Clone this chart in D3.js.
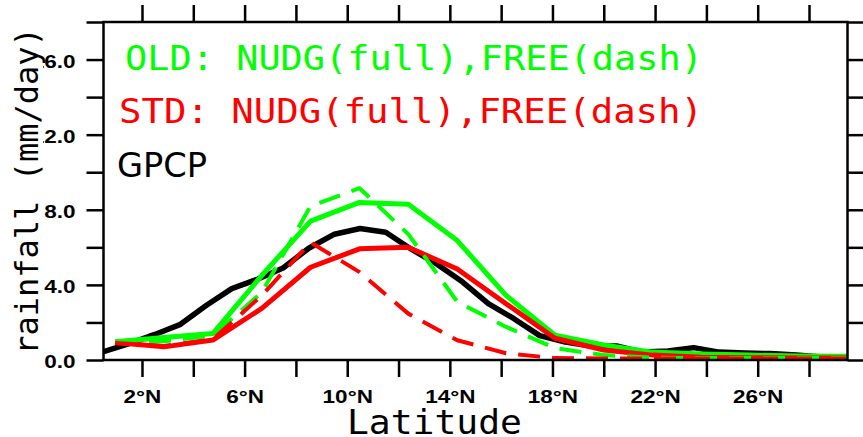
<!DOCTYPE html>
<html><head><meta charset="utf-8">
<script src="https://cdn.jsdelivr.net/npm/d3@7"></script>
<style>body{margin:0;background:#fff}svg{display:block}</style>
</head><body>
<script>
// ---- data ----
const gpcpLat = [0.5,1.5,2.5,3.5,4.5,5.5,6.5,7.5,8.5,9.5,10.5,11.5,12.5,13.5,14.5,15.5,16.5,17.5,18.5,19.5,20.5,21.5,22.5,23.5,24.5,25.5,26.5,27.5,28.5,29.5];
const gpcp    = [0.44,0.87,1.36,1.9,2.9,3.8,4.3,4.9,5.95,6.7,7.0,6.8,5.9,5.1,4.15,3.0,2.2,1.3,0.96,0.75,0.75,0.42,0.48,0.66,0.42,0.37,0.34,0.26,0.16,0.16];
const modelLat = [0.95,2.86,4.76,6.67,8.57,10.48,12.38,14.29,16.19,18.10,20.00,21.90,23.81,25.71,27.62,29.5];
const oldNudg = [0.97,1.2,1.41,4.5,7.4,8.39,8.3,6.36,3.44,1.32,0.8,0.42,0.32,0.26,0.21,0.2];
const oldFree = [1.0,1.0,1.3,3.6,8.2,9.15,6.7,3.1,1.76,0.63,0.26,0.12,0.1,0.1,0.1,0.1];
const stdNudg = [0.93,0.7,1.06,2.75,4.94,5.92,6.0,4.85,3.0,1.16,0.53,0.26,0.15,0.12,0.1,0.1];
const stdFree = [0.9,0.75,1.1,3.44,6.27,4.68,2.47,1.05,0.36,0.1,0.08,0.08,0.08,0.08,0.08,0.08];
const xTicks = [2,4,6,8,10,12,14,16,18,20,22,24,26,28];
const xLabelTicks = [2,6,10,14,18,22,26];
const yTicks = [0,2,4,6,8,10,12,14,16,18];
const yLabelTicks = [0,4,8,12,16];
const legendLines = ["OLD: NUDG(full),FREE(dash)","STD: NUDG(full),FREE(dash)","GPCP"];

const W=863,H=437;
const svg=d3.select("body").append("svg").attr("width",W).attr("height",H);
const x=d3.scaleLinear().domain([0.5,29.5]).range([103.5,847.5]);
const y=d3.scaleLinear().domain([0,18]).range([360,22]);

svg.append("defs").append("clipPath").attr("id","clip")
  .append("rect").attr("x",103.5).attr("y",22).attr("width",744).attr("height",338);

// data lines
const g=svg.append("g").attr("clip-path","url(#clip)");
function draw(lats,vals,color,dash,w){
  const line=d3.line().x((d,i)=>x(lats[i])).y(d=>y(d));
  const p=g.append("path").datum(vals).attr("d",line).attr("fill","none")
    .attr("stroke",color).attr("stroke-width",w).attr("stroke-linejoin","round");
  if(dash) p.attr("stroke-dasharray","22,12");
}
draw(gpcpLat,gpcp,"#000",false,5.5);
draw(modelLat,oldNudg,"#00ff00",false,5);
draw(modelLat,stdNudg,"#ff0000",false,5);
draw(modelLat,oldFree,"#00ff00",true,4);
draw(modelLat,stdFree,"#ff0000",true,4);

// axes
const axStyle=sel=>{sel.select(".domain").remove();sel.selectAll("line").attr("stroke","#000").attr("stroke-width",2.5);};
const bottomAx=svg.append("g").attr("transform","translate(0,360)")
  .call(d3.axisBottom(x).tickValues(xTicks).tickSize(17).tickPadding(13).tickFormat(d=>xLabelTicks.includes(d)?d+"°N":""))
  .call(axStyle);
svg.append("g").attr("transform","translate(0,22)")
  .call(d3.axisTop(x).tickValues(xTicks).tickSize(17).tickFormat("")).call(axStyle);
const leftAx=svg.append("g").attr("transform","translate(103.5,0)")
  .call(d3.axisLeft(y).tickValues(yTicks).tickSize(17).tickPadding(11).tickFormat(d=>yLabelTicks.includes(d)?d.toFixed(1):""))
  .call(axStyle);
svg.append("g").attr("transform","translate(847.5,0)")
  .call(d3.axisRight(y).tickValues(yTicks).tickSize(16).tickFormat("")).call(axStyle);

svg.append("rect").attr("x",103.5).attr("y",22).attr("width",744).attr("height",338)
  .attr("fill","none").attr("stroke","#000").attr("stroke-width",2.5);

function styleLabels(ax,mode){
  ax.selectAll("text").attr("font-family","Liberation Sans, Arial, sans-serif")
    .attr("font-weight","bold").attr("font-size",18).attr("fill","#000");
  ax.selectAll("text").each(function(){
    const t=d3.select(this); if(!t.text()) return;
    const len=this.getComputedTextLength(), nl=len*1.25;
    const x0=+t.attr("x")||0;
    t.attr("textLength",nl).attr("lengthAdjust","spacingAndGlyphs").attr("text-anchor","start");
    if(mode==="left") t.attr("x",x0-nl).attr("dy","0.42em");
    else t.attr("x",x0-nl/2);
  });
}
styleLabels(leftAx,"left");
styleLabels(bottomAx,"bottom");

// cover behind y label
svg.append("rect").attr("x",0).attr("y",30).attr("width",43).attr("height",120).attr("fill","#fff");

const mono="DejaVu Sans Mono, monospace";
svg.append("text").attr("transform","translate(38,191) rotate(-90)").attr("text-anchor","middle")
  .attr("font-family",mono).attr("font-size",32).attr("fill","#000").text("rainfall (mm/day)");
svg.append("text").attr("x",347).attr("y",434).attr("font-family",mono).attr("font-size",34)
  .attr("textLength",175).attr("lengthAdjust","spacingAndGlyphs").attr("fill","#000").text("Latitude");

// legend
svg.append("text").attr("x",125).attr("y",70).attr("font-family",mono).attr("font-size",34)
  .attr("textLength",578).attr("lengthAdjust","spacingAndGlyphs").attr("fill","#00ff00").text(legendLines[0]);
svg.append("text").attr("x",119).attr("y",122.7).attr("font-family",mono).attr("font-size",34)
  .attr("textLength",584).attr("lengthAdjust","spacingAndGlyphs").attr("fill","#ff0000").text(legendLines[1]);
svg.append("text").attr("x",117).attr("y",176.5).attr("font-family","DejaVu Sans, sans-serif").attr("font-size",34)
  .attr("textLength",90).attr("lengthAdjust","spacingAndGlyphs").attr("fill","#000").text(legendLines[2]);
</script>
</body></html>
